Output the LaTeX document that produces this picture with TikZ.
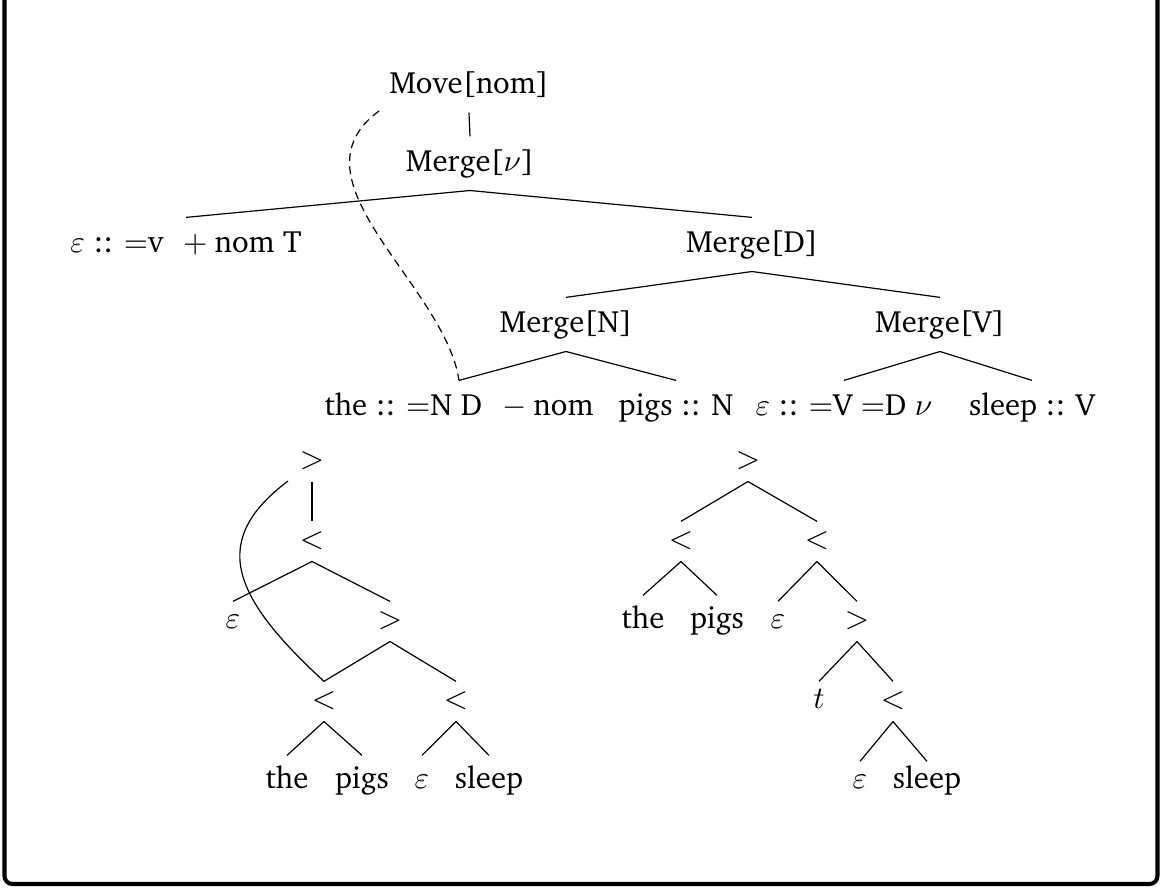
\documentclass[tikz,border=0pt]{standalone}
\IfFileExists{charter.sty}{\usepackage[T1]{fontenc}\usepackage{charter}}{\usepackage{fontspec}\setmainfont{Liberation Serif}}
\begin{document}
\begin{tikzpicture}[x=0.351pt,y=-0.351pt,
  every node/.style={font=\fontsize{10.8}{13}\selectfont, inner sep=0pt, anchor=base},
  tt/.style={text height=12.3pt, text depth=6.3pt},
  bt/.style={text height=9.5pt, text depth=4.2pt},
  bw/.style={text height=11.6pt, text depth=4.2pt},
  edge/.style={line width=0.42pt},
  trace/.style={line width=0.42pt, dash pattern=on 2.8pt off 1.8pt},
  frame/.style={line width=1.42pt, rounded corners=2.8pt}]
\useasboundingbox (0,0) rectangle (1162,888);
\draw[frame] (4.5,-20) -- (4.5,884) -- (1157.5,884) -- (1157.5,-20);

% upper derivation tree
\node[tt] (move) at (469,94) {Move[nom]};
\node[tt] (mv) at (470,172) {Merge[$\nu$]};
\node[tt] (tlex) at (186,253) {$\varepsilon$ :: ${=}$v\hspace{7pt}${+}$\hspace{2.5pt}nom T};
\node[tt] (md) at (752,253) {Merge[D]};
\node[tt] (mn) at (566,333) {Merge[N]};
\node[tt] (mvv) at (940,333) {Merge[V]};
\node[tt] (the) at (459,416) {the :: ${=}$N D\hspace{7pt}${-}$\hspace{2.5pt}nom};
\node[tt] (pigs) at (676,416) {pigs :: N};
\node[tt] (vlex) at (844,416) {$\varepsilon$ :: ${=}$V ${=}$D $\nu$};
\node[tt] (sleep) at (1032,416) {sleep :: V};
\draw[edge] (move.south) -- (mv.north);
\draw[edge] (mv.south) -- (tlex.north);
\draw[edge] (mv.south) -- (md.north);
\draw[edge] (md.south) -- (mn.north);
\draw[edge] (md.south) -- (mvv.north);
\draw[edge] (mn.south) -- (the.north);
\draw[edge] (mn.south) -- (pigs.north);
\draw[edge] (mvv.south) -- (vlex.north);
\draw[edge] (mvv.south) -- (sleep.north);
\coordinate (dstart) at (379,111);
\draw[trace] (dstart) .. controls (285,180) and (445,285) .. (the.north);

% left derived tree
\node[bt] (a1) at (312,469) {$>$};
\node[bt] (a2) at (312,549) {$<$};
\node[bt] (a3) at (233,629) {$\varepsilon$};
\node[bt] (a4) at (390,629) {$>$};
\node[bt] (a5) at (324,709) {$<$};
\node[bt] (a6) at (456,709) {$<$};
\node[bw] (a7) at (287,789) {the};
\node[bw] (a8) at (362,789) {pigs};
\node[bw] (a9) at (422,789) {$\varepsilon$};
\node[bw] (a10) at (489,789) {sleep};
\draw[edge] (a1.south) -- (a2.north);
\draw[edge] (a2.south) -- (a3.north);
\draw[edge] (a2.south) -- (a4.north);
\draw[edge] (a4.south) -- (a5.north);
\draw[edge] (a4.south) -- (a6.north);
\draw[edge] (a5.south) -- (a7.north);
\draw[edge] (a5.south) -- (a8.north);
\draw[edge] (a6.south) -- (a9.north);
\draw[edge] (a6.south) -- (a10.north);
\coordinate (cstart) at (288,481);
\draw[edge] (cstart) .. controls (210,540) and (230,595) .. (a5.north);

% right derived tree
\node[bt] (b1) at (748,469) {$>$};
\node[bt] (b2) at (681,549) {$<$};
\node[bt] (b3) at (817,549) {$<$};
\node[bw] (b4) at (643,629) {the};
\node[bw] (b5) at (717,629) {pigs};
\node[bt] (b6) at (778,629) {$\varepsilon$};
\node[bt] (b7) at (857,629) {$>$};
\node[bt] (b8) at (819,709) {$t$};
\node[bt] (b9) at (893,709) {$<$};
\node[bt] (b10) at (860,789) {$\varepsilon$};
\node[bt] (b11) at (927,789) {sleep};
\draw[edge] (b1.south) -- (b2.north);
\draw[edge] (b1.south) -- (b3.north);
\draw[edge] (b2.south) -- (b4.north);
\draw[edge] (b2.south) -- (b5.north);
\draw[edge] (b3.south) -- (b6.north);
\draw[edge] (b3.south) -- (b7.north);
\draw[edge] (b7.south) -- (b8.north);
\draw[edge] (b7.south) -- (b9.north);
\draw[edge] (b9.south) -- (b10.north);
\draw[edge] (b9.south) -- (b11.north);
\end{tikzpicture}
\end{document}
